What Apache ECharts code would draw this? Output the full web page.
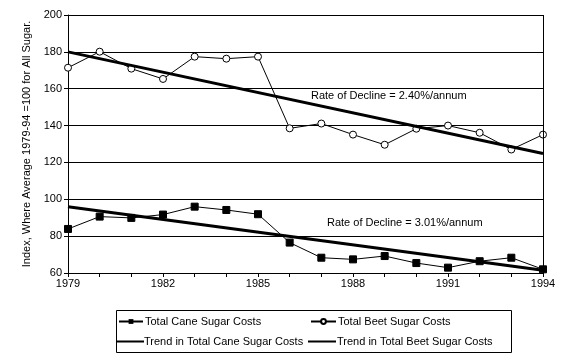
<!DOCTYPE html>
<html>
<head>
<meta charset="utf-8">
<script src="https://cdn.jsdelivr.net/npm/echarts@6/dist/echarts.min.js"></script>
<style>html,body{margin:0;padding:0;background:#fff}#c{width:567px;height:360px}</style>
</head>
<body>
<div id="c"></div>
<script>
var years = ['1979','1980','1981','1982','1983','1984','1985','1986','1987','1988','1989','1990','1991','1992','1993','1994'];
var caneCosts = [83.9, 90.6, 89.9, 91.7, 96.0, 94.2, 91.9, 76.5, 68.3, 67.4, 69.2, 65.4, 62.9, 66.4, 68.3, 62.0];
var beetCosts = [171.4, 180.1, 170.9, 165.3, 177.4, 176.3, 177.4, 138.5, 141.1, 135.1, 129.6, 138.3, 140.0, 136.1, 127.0, 135.1];
var caneTrendEnds = [96.0, 61.5];
var beetTrendEnds = [180.0, 124.8];
var yTicks = [60, 80, 100, 120, 140, 160, 180, 200];
var seriesNames = ['Total Cane Sugar Costs', 'Total Beet Sugar Costs', 'Trend in Total Cane Sugar Costs', 'Trend in Total Beet Sugar Costs'];
var notes = ['Rate of Decline = 2.40%/annum', 'Rate of Decline = 3.01%/annum'];

function endsSeries(ends) {
  var d = years.map(function () { return null; });
  d[0] = ends[0];
  d[d.length - 1] = ends[1];
  return d;
}

var FONT = 'Arial, "Liberation Sans", sans-serif';
var chart = echarts.init(document.getElementById('c'), null, {renderer: 'canvas'});
var txt = {fontFamily: FONT, fontSize: 11, color: '#000'};

function leg(name, left, top, w, h, icon, pad) {
  var item = {name: name};
  if (icon) item.icon = icon;
  return {
    data: [item], left: left, top: top, itemWidth: w, itemHeight: h, itemGap: 0,
    padding: 0, textStyle: Object.assign({}, txt, {padding: [0, 0, 0, pad]}), selectedMode: false
  };
}

chart.setOption({
  animation: false,
  backgroundColor: '#fff',
  grid: {left: 68, right: 24, top: 15, bottom: 87, containLabel: false},
  xAxis: {
    type: 'category', data: years, boundaryGap: false,
    axisLine: {lineStyle: {color: '#000', width: 1}},
    axisTick: {show: true, interval: 0, length: 4, lineStyle: {color: '#000'}},
    axisLabel: Object.assign({}, txt, {interval: 2, margin: 5}),
    splitLine: {show: false}
  },
  yAxis: {
    type: 'value', min: yTicks[0], max: yTicks[yTicks.length - 1], interval: 20,
    name: 'Index, Where Average 1979-94 =100 for All Sugar.',
    nameLocation: 'middle', nameRotate: 90, nameGap: 34,
    nameTextStyle: txt,
    axisLine: {show: true, lineStyle: {color: '#000', width: 1}},
    axisTick: {show: true, length: 4, lineStyle: {color: '#000'}},
    axisLabel: Object.assign({}, txt, {margin: 6}),
    splitLine: {show: true, lineStyle: {color: '#000', width: 1}}
  },
  legend: [
    leg(seriesNames[0], 118, 316, 24, 6, null, -3),
    leg(seriesNames[1], 310, 316, 25, 6, null, -3),
    leg(seriesNames[2], 117, 336, 27, 2, 'rect', -5),
    leg(seriesNames[3], 308, 336, 28, 2, 'rect', -4)
  ],
  graphic: [
    {type: 'rect', shape: {x: 116.5, y: 310.5, width: 395, height: 42}, style: {fill: 'none', stroke: '#000', lineWidth: 1}, z: 100},
    {type: 'line', shape: {x1: 543.5, y1: 15, x2: 543.5, y2: 273}, style: {stroke: '#000', lineWidth: 1}, z: 100},
    {type: 'text', left: 311, top: 90, style: {text: notes[0], font: '11px ' + FONT, fill: '#000'}, z: 100},
    {type: 'text', left: 327, top: 217, style: {text: notes[1], font: '11px ' + FONT, fill: '#000'}, z: 100}
  ],
  series: [
    {
      name: seriesNames[0], type: 'line', data: caneCosts,
      symbol: 'rect', symbolSize: 7, showAllSymbol: true,
      lineStyle: {color: '#000', width: 1}, itemStyle: {color: '#000', borderColor: '#000'}, z: 3
    },
    {
      name: seriesNames[1], type: 'line', data: beetCosts,
      symbol: 'circle', symbolSize: 7, showAllSymbol: true,
      lineStyle: {color: '#000', width: 1}, itemStyle: {color: '#fff', borderColor: '#000', borderWidth: 1}, z: 3
    },
    {
      name: seriesNames[2], type: 'line', data: endsSeries(caneTrendEnds), connectNulls: true,
      symbol: 'none', lineStyle: {color: '#000', width: 3}, itemStyle: {color: '#000'}, z: 4
    },
    {
      name: seriesNames[3], type: 'line', data: endsSeries(beetTrendEnds), connectNulls: true,
      symbol: 'none', lineStyle: {color: '#000', width: 3}, itemStyle: {color: '#000'}, z: 4
    }
  ]
});
</script>
</body>
</html>
